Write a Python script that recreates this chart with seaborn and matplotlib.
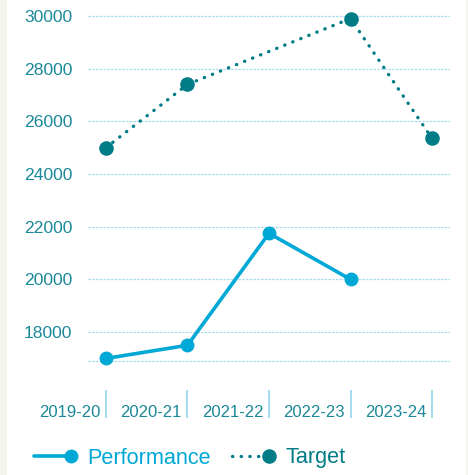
import matplotlib
matplotlib.use('Agg')
import matplotlib.pyplot as plt
import pandas as pd
import seaborn as sns
from matplotlib.legend_handler import HandlerLine2D
from matplotlib.lines import Line2D
from matplotlib.patches import Rectangle
from matplotlib.transforms import ScaledTranslation

seasons = ['2019-20', '2020-21', '2021-22', '2022-23', '2023-24']
performance = [17000, 17500, 21750, 20000, None]
target = [25000, 27400, None, 29900, 25350]
y_ticks = [18000, 20000, 22000, 24000, 26000, 28000, 30000]
y_floor = 16900

perf_color = '#00a8d6'
target_color = '#007c86'
label_color = '#1a8898'
grid_color = '#a6dcef'
dotted = (0, (0.1, 2.5))


class EndMarkerHandler(HandlerLine2D):
    # two-point legend line with the marker only on the right end
    def create_artists(self, *args, **kwargs):
        artists = super().create_artists(*args, **kwargs)
        artists[0].set_markevery([1])
        return artists


sns.set_theme(style='white')
plt.rcParams['font.family'] = ['Liberation Sans', 'DejaVu Sans']

fig = plt.figure(figsize=(4.68, 4.75), dpi=100, facecolor='#f3f6ec')
fig.patches.append(Rectangle((7 / 468, 0), 459 / 468, 1, transform=fig.transFigure,
                             facecolor='white', edgecolor='none', zorder=-1))
ax = fig.add_axes([88 / 468, 1 - 418 / 475, 362 / 468, 410 / 475])
ax.set_facecolor('none')

df = pd.DataFrame({'pos': range(len(seasons)), 'Performance': performance, 'Target': target})

sns.lineplot(data=df, x='pos', y='Performance', ax=ax, color=perf_color, lw=2.6,
             marker='o', markersize=10, markeredgewidth=0)
sns.lineplot(data=df, x='pos', y='Target', ax=ax, color=target_color,
             lw=2.4, linestyle=dotted, dash_capstyle='round',
             marker='o', markersize=10.5, markeredgewidth=0)

ax.set_xlim(-0.22, len(seasons) - 1 + 0.22)
ax.set_ylim(14740, 30300)
ax.set_xlabel('')
ax.set_ylabel('')

for spine in ax.spines.values():
    spine.set_visible(False)

ax.set_yticks(y_ticks)
ax.set_yticklabels([str(v) for v in y_ticks], color=label_color, fontsize=12.6)
ax.tick_params(axis='y', length=0, pad=11.5)
for v in [y_floor] + y_ticks:
    ax.axhline(v, color=grid_color, lw=0.9, ls=(0, (2, 1)), zorder=0)

ax.set_xticks(range(len(seasons)))
ax.set_xticklabels([])
ax.tick_params(axis='x', direction='in', length=20, width=1.3, color='#9dd8ee', bottom=True)
shift = ax.get_xaxis_transform() + ScaledTranslation(-0.055, 0.01, fig.dpi_scale_trans)
for i, s in enumerate(seasons):
    ax.text(i, 0, s, transform=shift, ha='right', va='baseline', color=label_color, fontsize=12)

handles = [
    Line2D([], [], color=perf_color, lw=2.6, marker='o', markersize=10, markeredgewidth=0),
    Line2D([], [], color=target_color, lw=2.4, linestyle=dotted, dash_capstyle='round',
           marker='o', markersize=10.5, markeredgewidth=0),
]
leg = fig.legend(handles, ['Performance', 'Target'], loc='center left',
                 bbox_to_anchor=(8 / 468, 17 / 475), ncol=2, frameon=False, fontsize=15.6,
                 handlelength=2.3, handletextpad=0.45, columnspacing=0.7,
                 handler_map={h: EndMarkerHandler(numpoints=2) for h in handles})
for t, c in zip(leg.get_texts(), [perf_color, target_color]):
    t.set_color(c)

fig.savefig('out.png', dpi=100, facecolor=fig.get_facecolor())
